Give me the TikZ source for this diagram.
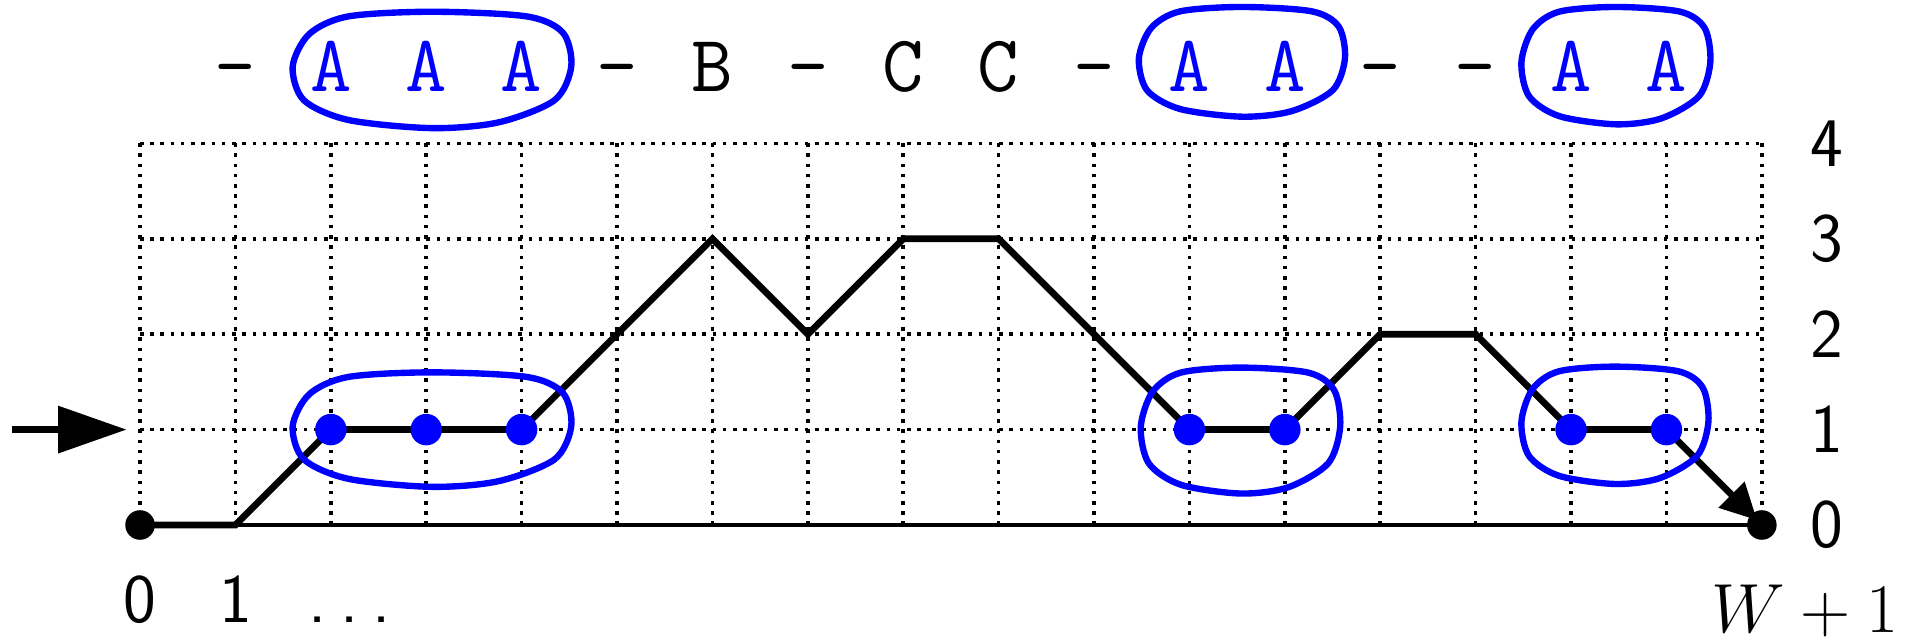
\documentclass[tikz,border=0pt]{standalone}
\usepackage{fontspec}
\usetikzlibrary{arrows.meta}
\begin{document}
\begin{tikzpicture}[x=1cm,y=1cm,
  gridline/.style={dotted, line width=1.05pt},
  axisline/.style={line width=1.1pt},
  walk/.style={line width=2pt, line join=miter},
  blob/.style={draw=blue, line width=1.9pt},
  bdot/.style={circle, fill=blue, inner sep=0pt, minimum size=0.33cm},
  kdot/.style={circle, fill=black, inner sep=0pt, minimum size=0.31cm},
  lab/.style={font=\sffamily\fontsize{20.74}{24}\selectfont, inner sep=0pt},
  sym/.style={font=\ttfamily\fontsize{24}{28}\selectfont\addfontfeature{FakeBold=1.6}, inner sep=0pt, anchor=base},
]
\useasboundingbox (-1.468,-1.237) rectangle (18.70,5.503);
\newcommand\myblob[4]{%
  \begin{scope}[shift={(#1,#3)}, xscale=#2-#1, yscale=#4-#3]
    \draw[blob] plot[smooth cycle] coordinates {(0.5,1) (0.84,0.96) (0.97,0.82) (1.0,0.53) (0.94,0.24) (0.74,0.05) (0.5,0) (0.2,0.07) (0.04,0.24) (0,0.53) (0.06,0.81) (0.2,0.96)};
  \end{scope}}
% grid
\draw[gridline] (0,0) grid (17,4);
% walk coordinates
\foreach \i/\h in {0/0,1/0,2/1,3/1,4/1,5/2,6/3,7/2,8/3,9/3,10/2,11/1,12/1,13/2,14/2,15/1,16/1,17/0}
  \coordinate (p\i) at (\i,\h);
\draw[axisline] (p0) -- (p17);
\draw[walk] (p0) -- (p1) -- (p2) -- (p3) -- (p4) -- (p5) -- (p6) -- (p7) -- (p8) -- (p9) -- (p10) -- (p11) -- (p12) -- (p13) -- (p14) -- (p15) -- (p16);
\draw[walk, -{Triangle[length=0.38cm,width=0.37cm]}, shorten >=2pt] (p16) -- (p17);
% dots
\node[kdot] (d0) at (p0) {};
\node[kdot] (d17) at (p17) {};
\foreach \i in {2,3,4,11,12,15,16} \node[bdot] (b\i) at (p\i) {};
% entry arrow
\coordinate (inS) at (-1.34,1);
\coordinate (inE) at (-0.14,1);
\draw[line width=2.2pt, -{Triangle[length=0.72cm,width=0.48cm]}] (inS) -- (inE);
% blobs
\myblob{1.6}{4.52}{0.40}{1.6}
\myblob{10.49}{12.58}{0.33}{1.65}
\myblob{14.48}{16.44}{0.43}{1.66}
\myblob{1.6}{4.52}{4.16}{5.38}
\myblob{10.47}{12.63}{4.28}{5.43}
\myblob{14.48}{16.46}{4.20}{5.43}
% top symbols
\foreach \i/\s/\c in {1/-/black,2/A/blue,3/A/blue,4/A/blue,5/-/black,6/B/black,7/-/black,8/C/black,9/C/black,10/-/black,11/A/blue,12/A/blue,13/-/black,14/-/black,15/A/blue,16/A/blue}
  \node[sym, text=\c] (s\i) at (\i,4.54) {\s};
% right labels
\foreach \k in {0,...,4} \node[lab] (r\k) at (17.68,\k) {\k};
% bottom labels
\node[lab, anchor=base] (x0) at (0,-1.02) {0};
\node[lab, anchor=base] (x1) at (1,-1.02) {1};
\node[lab, anchor=base] (xd) at (2.2,-1.02) {.\kern0.2em.\kern0.2em.};
\node[lab, anchor=base, font=\fontsize{20.74}{24}\selectfont] (xw) at (17.45,-1.13) {$W+1$};
\end{tikzpicture}
\end{document}
